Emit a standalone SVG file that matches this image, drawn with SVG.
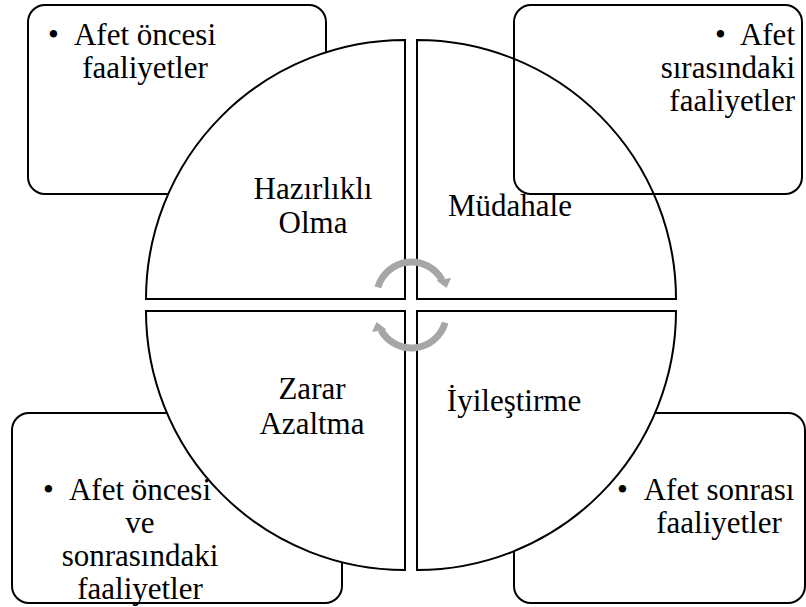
<svg xmlns="http://www.w3.org/2000/svg" width="806" height="607" viewBox="0 0 806 607">
<style>
.box{fill:#fff;stroke:#000;stroke-width:2}
.boxo{fill:none;stroke:#000;stroke-width:2}
.q{fill:#fff;stroke:#000;stroke-width:2}
.m{text-anchor:middle}
.e{text-anchor:end}
.arc{fill:none;stroke:#A6A6A6;stroke-width:7}
.ah{fill:#A6A6A6}
</style>
<rect width="806" height="607" fill="#fff"/>
<g id="box-tl"><rect class="box" x="28" y="5" width="298" height="189" rx="17"/></g>
<g id="box-bl"><rect class="box" x="12" y="413" width="330" height="190" rx="17"/></g>
<g id="box-br"><rect class="box" x="514" y="413" width="291" height="190" rx="17"/></g>
<g id="q-tl"><path class="q" d="M405,299 H146 A259,259 0 0 1 405,40 Z"/></g>
<g id="q-tr"><path class="q" d="M417,299 V40 A259,259 0 0 1 676,299 Z"/></g>
<g id="q-br"><path class="q" d="M417,311 H676 A259,259 0 0 1 417,570 Z"/></g>
<g id="q-bl"><path class="q" d="M405,311 V570 A259,259 0 0 1 146,311 Z"/></g>
<g id="box-tr"><rect class="boxo" x="514" y="5" width="288" height="189" rx="17"/></g>
<g id="connectors">
<path class="arc" d="M377.9,287.4 A35,35 0 0 1 442.1,280"/>
<polygon class="ah" points="436.5,280.5 451,278 446.5,288"/>
<path class="arc" d="M445.1,322.6 A35,35 0 0 1 380.9,330"/>
<polygon class="ah" points="386.5,329.5 372,332 376.5,322"/>
</g>
<g font-family="Liberation Serif, Times New Roman, DejaVu Serif, serif" font-size="31" fill="#000">
<g id="text-tl">
<text x="48" y="45">•</text>
<text class="m" x="145" y="45">Afet öncesi</text>
<text class="m" x="145" y="78">faaliyetler</text>
</g>
<g id="text-tr">
<text x="715" y="45">•</text>
<text class="e" x="795" y="45">Afet</text>
<text class="e" x="795" y="78">sırasındaki</text>
<text class="e" x="795" y="111">faaliyetler</text>
</g>
<g id="text-bl">
<text x="43" y="500">•</text>
<text class="m" x="140" y="500">Afet öncesi</text>
<text class="m" x="140" y="533">ve</text>
<text class="m" x="140" y="566">sonrasındaki</text>
<text class="m" x="140" y="599">faaliyetler</text>
</g>
<g id="text-br">
<text x="617" y="500">•</text>
<text class="m" x="719" y="500">Afet sonrası</text>
<text class="m" x="719" y="533">faaliyetler</text>
</g>
<g id="label-hazirlikli">
<text class="m" x="313" y="199">Hazırlıklı</text>
<text class="m" x="313" y="233">Olma</text>
</g>
<g id="label-mudahale"><text class="m" x="510" y="216">Müdahale</text></g>
<g id="label-zarar">
<text class="m" x="312" y="399">Zarar</text>
<text class="m" x="312" y="434">Azaltma</text>
</g>
<g id="label-iyilestirme"><text class="m" x="514" y="411">İyileştirme</text></g>
</g>
</svg>
